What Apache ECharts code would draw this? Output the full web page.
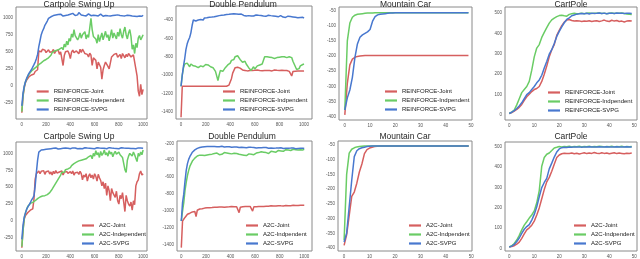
<!DOCTYPE html>
<html><head><meta charset="utf-8">
<script src="https://cdn.jsdelivr.net/npm/echarts@6/dist/echarts.min.js"></script>
<style>html,body{margin:0;padding:0;background:#fff}#c{width:640px;height:259px}</style>
</head><body><div id="c"></div>
<script>
// ---------- tick labels ----------
const iterTicks = [0,200,400,600,800,1000];
const epTicks = [0,10,20,30,40,50];
const swingTicks = [-250,0,250,500,750,1000];
const pendTicks1 = [-1400,-1200,-1000,-800,-600,-400];
const pendTicks2 = [-1400,-1200,-1000,-800,-600,-400,-200];
const mcarTicks = [-400,-350,-300,-250,-200,-150,-100,-50];
const cpoleTicks = [0,100,200,300,400,500];

// ---------- legend names ----------
const rfNames1 = ['REINFORCE-Joint','REINFORCE-Independent','REINFORCE-SVPG'];
const rfNames = ['REINFORCE-Joint','REINFORCE-Indpendent','REINFORCE-SVPG'];
const a2cNames1 = ['A2C-Joint','A2C-Independent','A2C-SVPG'];
const a2cNames = ['A2C-Joint','A2C-Indpendent','A2C-SVPG'];

// ---------- Cartpole Swing Up, REINFORCE (every 10 iterations) ----------
const rfSwingJoint = [-390,-150,-25,50,88,112,138,150,162,188,
175,212,200,238,512,530,500,538,512,525,
488,512,530,495,520,500,535,475,512,490,
525,462,500,480,300,445,500,488,512,470,
400,495,525,488,462,512,500,470,538,490,
538,508,475,500,462,425,480,450,300,412,
425,375,250,350,375,275,100,238,300,350,
325,288,250,338,425,400,462,438,475,420,
438,462,400,475,445,412,462,430,475,450,
425,445,455,438,250,150,-75,-150,25,-125,
-50];
const rfSwingInd = [-375,-138,-12,62,105,145,175,200,220,238,
250,262,280,295,312,320,338,355,370,375,
388,400,412,430,450,488,470,512,488,525,
500,538,512,562,530,612,570,655,600,695,
655,762,712,825,738,750,675,712,775,700,
750,725,795,688,750,712,850,988,825,725,
750,688,625,750,650,712,775,675,738,800,
712,750,662,738,825,700,775,750,688,788,
725,838,750,700,800,862,750,688,775,825,
725,538,600,475,625,562,700,738,675,712,
750];
const rfSwingSvpg = [-290,-100,0,62,112,155,188,212,242,270,
312,350,400,462,575,662,750,800,838,888,
905,950,988,980,1012,1000,1030,1012,1038,1020,
1045,1025,1050,1032,1022,1045,1030,1055,1038,1025,
1050,1035,1062,1045,1030,1050,1040,1075,1055,1038,
1050,1030,1045,1025,1038,1055,1040,1028,1048,1035,
1050,1032,1042,1025,1035,1050,1030,1020,1040,1032,
1048,1028,1038,1025,1045,1030,1015,1035,1022,1040,
1025,1032,1015,1028,1010,1025,1020,1035,1018,1030,
1012,1022,1005,1020,1028,1015,1030,1022,1032,1020,
1035];

// ---------- Cartpole Swing Up, A2C ----------
const a2cSwingJoint = [-396,-120,30,80,105,125,140,160,175,180,
322,619,700,720,740,700,735,710,745,690,
730,705,740,695,725,680,735,700,745,710,
690,725,700,740,680,720,695,735,705,690,
730,700,740,680,715,700,720,690,735,700,
610,680,650,700,590,660,700,640,680,620,
700,660,590,690,640,600,520,580,480,560,
380,520,450,300,480,420,400,350,440,300,
250,380,330,420,280,140,380,300,250,220,
280,160,300,240,520,580,610,700,740,680,
700];
const a2cSwingInd = [-380,-150,40,120,175,220,245,260,265,275,
285,300,310,330,345,355,365,370,372,375,
380,390,400,420,440,470,500,530,560,590,
620,640,680,720,740,720,760,735,770,745,
790,820,800,850,830,870,860,890,870,900,
880,910,890,920,905,950,930,970,920,1000,
960,1040,980,1010,940,1030,970,1000,1050,980,
1010,960,1040,990,1020,950,1000,1030,990,970,
1020,980,1000,940,960,760,720,900,960,1000,
1010,960,1020,980,930,880,1000,960,1020,980,
1050];
const a2cSwingSvpg = [-272,-60,60,120,175,210,240,270,310,340,
371,520,720,900,1020,1045,1050,1060,1055,1068,
1060,1072,1065,1078,1070,1062,1075,1068,1080,1072,
1065,1078,1070,1082,1075,1068,1080,1072,1078,1085,
1070,1076,1082,1072,1080,1075,1068,1080,1074,1082,
1070,1078,1084,1075,1080,1072,1078,1085,1074,1080,
1070,1077,1083,1075,1080,1072,1078,1084,1076,1082,
1070,1078,1085,1075,1080,1072,1076,1082,1074,1080,
1070,1078,1083,1075,1080,1072,1078,1070,1076,1082,
1074,1080,1072,1078,1070,1076,1082,1074,1080,1072,
1078];

// ---------- Double Pendulum, REINFORCE ----------
const rfPendJoint = [-1460,-1123,-1123,-1123,-1123,-1123,-1123,-1123,-1123,-1123,
-1123,-1123,-1123,-1123,-1123,-1123,-1123,-1123,-1123,-1123,
-1123,-1123,-1123,-1123,-1123,-1123,-1123,-1123,-1123,-1123,
-1123,-1123,-1123,-1123,-1123,-1123,-1123,-1123,-1120,-1110,
-1090,-1040,-980,-950,-920,-905,-915,-930,-925,-935,
-945,-940,-950,-945,-955,-948,-952,-945,-950,-955,
-948,-952,-945,-955,-950,-948,-953,-946,-950,-955,
-950,-947,-952,-948,-955,-950,-946,-952,-949,-953,
-950,-955,-948,-952,-950,-956,-950,-953,-960,-955,
-1010,-962,-955,-958,-952,-956,-950,-955,-952,-957,
-955];
const rfPendInd = [-1123,-1000,-920,-880,-900,-870,-890,-910,-880,-895,
-900,-880,-905,-890,-920,-940,-900,-880,-910,-895,
-885,-900,-890,-880,-910,-895,-920,-940,-960,-1010,
-1060,-1000,-950,-930,-960,-940,-920,-905,-890,-900,
-870,-840,-860,-830,-800,-820,-790,-810,-830,-840,
-860,-870,-850,-880,-900,-920,-940,-950,-930,-910,
-935,-920,-900,-910,-890,-900,-880,-860,-800,-790,
-800,-815,-805,-790,-810,-800,-820,-800,-810,-795,
-805,-790,-800,-815,-800,-795,-810,-805,-800,-820,
-810,-850,-880,-900,-940,-920,-930,-900,-890,-885,
-880];
const rfPendSvpg = [-1123,-1000,-900,-820,-720,-660,-620,-590,-540,-460,
-400,-395,-410,-390,-400,-380,-395,-385,-400,-378,
-390,-375,-385,-370,-382,-368,-375,-365,-372,-358,
-365,-352,-360,-348,-355,-345,-352,-340,-348,-338,
-345,-335,-342,-332,-340,-335,-345,-338,-342,-335,
-345,-350,-342,-355,-348,-352,-345,-355,-348,-356,
-350,-345,-355,-348,-358,-350,-345,-356,-350,-360,
-352,-348,-358,-352,-362,-355,-350,-360,-355,-365,
-358,-352,-362,-368,-360,-372,-365,-358,-368,-362,
-372,-366,-360,-370,-365,-375,-368,-372,-378,-370,
-380];

// ---------- Double Pendulum, A2C ----------
const a2cPendJoint = [-1431,-1117,-1097,-1075,-1058,-1038,-1030,-1025,-1020,-1010,
-999,-1005,-1065,-990,-985,-975,-970,-972,-968,-965,
-960,-962,-958,-960,-955,-958,-952,-955,-951,-956,
-950,-953,-948,-952,-950,-955,-949,-952,-948,-950,
-953,-947,-951,-949,-952,-948,-950,-1018,-955,-950,
-948,-952,-946,-950,-947,-951,-945,-949,-1000,-950,
-946,-948,-944,-947,-943,-946,-942,-945,-941,-944,
-940,-943,-941,-938,-942,-940,-937,-941,-939,-936,
-940,-938,-935,-939,-937,-934,-938,-936,-933,-937,
-935,-932,-936,-934,-931,-935,-933,-930,-934,-932,
-932];
const a2cPendInd = [-1117,-1000,-900,-760,-660,-580,-520,-470,-440,-410,
-390,-375,-360,-350,-345,-340,-352,-340,-335,-345,
-330,-338,-325,-332,-340,-328,-335,-320,-330,-315,
-325,-335,-320,-330,-318,-310,-325,-315,-330,-320,
-312,-325,-335,-318,-328,-320,-340,-330,-345,-335,
-350,-340,-330,-345,-335,-325,-338,-330,-320,-335,
-325,-315,-328,-310,-322,-300,-315,-305,-295,-310,
-300,-320,-305,-295,-310,-300,-290,-305,-295,-285,
-300,-290,-280,-295,-285,-275,-290,-280,-272,-285,
-278,-270,-282,-275,-268,-280,-272,-276,-270,-278,
-272];
const a2cPendSvpg = [-1117,-900,-800,-650,-520,-440,-390,-355,-330,-305,
-290,-278,-268,-260,-255,-250,-247,-244,-242,-240,
-241,-239,-242,-238,-240,-237,-241,-238,-236,-240,
-238,-242,-239,-236,-240,-243,-239,-241,-245,-240,
-243,-246,-242,-244,-248,-243,-246,-250,-245,-248,
-244,-250,-247,-252,-248,-246,-251,-248,-253,-249,
-251,-255,-250,-253,-248,-252,-256,-251,-254,-250,
-255,-258,-252,-256,-253,-258,-254,-257,-260,-255,
-258,-253,-257,-261,-256,-259,-254,-258,-262,-257,
-260,-255,-259,-263,-258,-261,-256,-260,-264,-259,
-262];

// ---------- Mountain Car (every episode) ----------
const rfMcarJoint = [-394,-290,-229,-210,-204,-201,-200,-199,-198,-198,
-198,-198,-198,-198,-198,-198,-198,-198,-198,-198,
-198,-198,-198,-198,-198,-198,-198,-198,-198,-198,
-198,-198,-198,-198,-198,-198,-198,-198,-198,-198,
-198,-198,-198,-198,-198,-198,-198,-198,-198,-198];
const rfMcarInd = [-378,-150,-91,-72,-65,-62,-61,-60,-59,-58,
-58,-58,-57,-57,-57,-57,-57,-57,-57,-57,
-57,-57,-57,-57,-57,-57,-57,-57,-57,-57,
-57,-57,-57,-57,-57,-57,-57,-57,-57,-57,
-57,-57,-57,-57,-57,-57,-57,-57,-57,-57];
const rfMcarSvpg = [-378,-338,-312,-270,-205,-160,-138,-130,-125,-120,
-112,-85,-70,-64,-62,-61,-60,-59,-58,-58,
-57,-57,-57,-57,-57,-57,-57,-57,-57,-57,
-57,-57,-57,-57,-57,-57,-57,-57,-57,-57,
-57,-57,-57,-57,-57,-57,-57,-57,-57,-57];
const a2cMcarJoint = [-391,-355,-290,-225,-210,-180,-142,-115,-80,-66,
-61,-58,-56,-55,-54,-54,-54,-54,-54,-54,
-54,-54,-54,-54,-54,-54,-54,-54,-54,-54,
-54,-54,-54,-54,-54,-54,-54,-54,-54,-54,
-54,-54,-54,-54,-54,-54,-54,-54,-54,-54];
const a2cMcarInd = [-374,-150,-78,-65,-60,-57,-56,-55,-54,-54,
-54,-54,-54,-54,-54,-54,-54,-54,-54,-54,
-54,-54,-54,-54,-54,-54,-54,-54,-54,-54,
-54,-54,-54,-54,-54,-54,-54,-54,-54,-54,
-54,-54,-54,-54,-54,-54,-54,-54,-54,-54];
const a2cMcarSvpg = [-380,-350,-260,-170,-90,-70,-63,-60,-58,-56,
-55,-54,-54,-54,-54,-54,-54,-54,-54,-54,
-54,-54,-54,-54,-54,-54,-54,-54,-54,-54,
-54,-54,-54,-54,-54,-54,-54,-54,-54,-54,
-54,-54,-54,-54,-54,-54,-54,-54,-54,-54];

// ---------- CartPole (every episode) ----------
const rfCpoleJoint = [8,12,20,28,38,52,72,90,102,115,
125,130,140,165,200,240,285,320,345,390,
415,438,455,465,468,463,460,462,461,458,
460,459,462,458,460,462,458,461,465,460,
458,464,460,463,458,460,456,460,462,460];
const rfCpoleInd = [8,15,25,50,80,110,125,140,165,220,
285,328,345,380,405,428,450,466,475,482,
487,489,486,484,493,496,498,496,497,499,
496,498,500,497,499,498,500,497,499,496,
498,500,497,499,498,500,497,495,493,492];
const rfCpoleSvpg = [8,14,22,32,45,60,80,100,110,125,
140,158,172,195,230,262,298,320,350,385,
410,432,452,468,476,486,490,494,496,497,
496,498,495,499,497,498,500,497,499,496,
498,499,497,500,498,499,497,499,498,497];
const a2cCpoleJoint = [8,10,14,22,32,50,72,92,102,115,
135,165,200,245,290,328,350,380,415,448,
460,466,469,467,468,470,466,469,465,468,
471,467,470,468,472,469,467,471,468,470,
466,469,471,467,470,468,466,469,468,470];
const a2cCpoleInd = [8,14,25,42,65,92,115,132,150,165,
185,225,285,405,448,464,470,482,495,498,
502,500,502,501,503,500,502,501,503,500,
502,501,503,500,502,501,503,502,500,502,
501,503,500,502,501,503,500,502,501,502];
const a2cCpoleSvpg = [8,12,20,35,52,75,95,108,118,140,
168,205,255,300,325,345,392,420,450,475,
490,496,498,497,499,498,500,499,500,498,
500,499,501,500,499,500,501,499,500,501,
500,499,500,501,500,499,500,501,500,500];

const COLORS = ['#d65f5f','#6acc65','#4878cf'];
const FONT = 'Liberation Sans';

const panels = [
 {title:'Cartpole Swing Up', tx:79, ty:0, grid:{left:11,top:7,width:136,height:112}, xr:[-48,1032], yr:[-482,1155], xt:iterTicks, yt:swingTicks, step:10, names:rfNames1, data:[rfSwingJoint,rfSwingInd,rfSwingSvpg], lg:[36.7,88]},
 {title:'Double Pendulum', tx:243, ty:0, grid:{left:176,top:6,width:136,height:113}, xr:[-41,1065], yr:[-1480,-247], xt:iterTicks, yt:pendTicks1, step:10, names:rfNames, data:[rfPendJoint,rfPendInd,rfPendSvpg], lg:[223,88]},
 {title:'Mountain Car', tx:405.5, ty:0, grid:{left:339,top:7,width:133,height:113}, xr:[-2.3,50.4], yr:[-411,-38], xt:epTicks, yt:mcarTicks, step:1, names:rfNames, data:[rfMcarJoint,rfMcarInd,rfMcarSvpg], lg:[385,88]},
 {title:'CartPole', tx:571, ty:0, grid:{left:505,top:7,width:132,height:113}, xr:[-1.7,51.1], yr:[-24,529], xt:epTicks, yt:cpoleTicks, step:1, names:rfNames, data:[rfCpoleJoint,rfCpoleInd,rfCpoleSvpg], lg:[548,89]},
 {title:'Cartpole Swing Up', tx:79, ty:132.5, grid:{left:11,top:142,width:136,height:109}, xr:[-48,1032], yr:[-444,1169], xt:iterTicks, yt:swingTicks, step:10, names:a2cNames1, data:[a2cSwingJoint,a2cSwingInd,a2cSwingSvpg], lg:[82,222]},
 {title:'Double Pendulum', tx:242, ty:132.5, grid:{left:177,top:141,width:135,height:110}, xr:[-35,1063], yr:[-1471,-173], xt:iterTicks, yt:pendTicks2, step:10, names:a2cNames, data:[a2cPendJoint,a2cPendInd,a2cPendSvpg], lg:[246,222]},
 {title:'Mountain Car', tx:405, ty:132.5, grid:{left:338,top:141,width:134,height:110}, xr:[-2.4,50.3], yr:[-410,-37], xt:epTicks, yt:mcarTicks, step:1, names:a2cNames, data:[a2cMcarJoint,a2cMcarInd,a2cMcarSvpg], lg:[409,222]},
 {title:'CartPole', tx:571, ty:132.5, grid:{left:505,top:142,width:132,height:109}, xr:[-1.7,51.1], yr:[-12,524], xt:epTicks, yt:cpoleTicks, step:1, names:a2cNames, data:[a2cCpoleJoint,a2cCpoleInd,a2cCpoleSvpg], lg:[574,222]}
];

const option = {animation:false, backgroundColor:'#fff', title:[], grid:[], xAxis:[], yAxis:[], legend:[], series:[]};
const labelStyle = {fontSize:4.5, color:'#555', fontFamily:FONT, formatter:v=>String(v)};
panels.forEach((p,i)=>{
  option.title.push({text:p.title, left:p.tx, top:p.ty, textAlign:'center', padding:0,
    textStyle:{fontSize:8.5, fontWeight:'normal', color:'#262626', fontFamily:FONT}});
  option.grid.push(Object.assign({show:true, borderColor:'#8a8a8a', borderWidth:1, backgroundColor:'#fff'}, p.grid));
  option.xAxis.push({type:'value', gridIndex:i, min:p.xr[0], max:p.xr[1],
    axisLine:{show:false}, axisTick:{show:false}, splitLine:{show:false},
    axisLabel:Object.assign({margin:3, customValues:p.xt}, labelStyle)});
  option.yAxis.push({type:'value', gridIndex:i, min:p.yr[0], max:p.yr[1],
    axisLine:{show:false}, axisTick:{show:false}, splitLine:{show:false},
    axisLabel:Object.assign({margin:3, customValues:p.yt}, labelStyle)});
  option.legend.push({orient:'vertical', left:p.lg[0], top:p.lg[1], padding:0,
    itemWidth:12, itemHeight:2.2, itemGap:2, icon:'rect', selectedMode:false,
    textStyle:{fontSize:6, lineHeight:7, color:'#222', fontFamily:FONT}, data:p.names});
  p.data.forEach((arr,k)=>{
    option.series.push({type:'line', name:p.names[k], xAxisIndex:i, yAxisIndex:i,
      data:arr.map((v,j)=>[j*p.step, v]), showSymbol:false, symbol:'none', silent:true,
      lineStyle:{width:1.5, color:COLORS[k]}, itemStyle:{color:COLORS[k]}});
  });
});
const chart = echarts.init(document.getElementById('c'), null, {renderer:'canvas'});
chart.setOption(option);
</script></body></html>
